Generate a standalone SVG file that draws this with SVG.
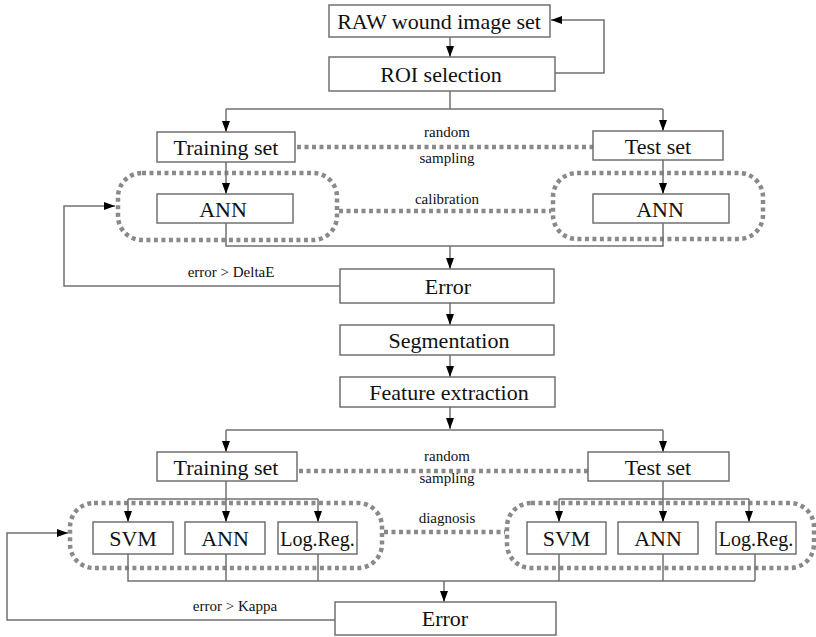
<svg xmlns="http://www.w3.org/2000/svg" width="816" height="637" viewBox="0 0 816 637">
  <style>
    .box { fill: #ffffff; stroke: #707070; stroke-width: 1.5; }
    .lbl { font-family: "Liberation Serif", "Times New Roman", serif; font-size: 22px; fill: #111111; text-anchor: middle; }
    .sm { font-family: "Liberation Serif", "Times New Roman", serif; font-size: 15px; fill: #111111; text-anchor: middle; }
    .wire { fill: none; stroke: #707070; stroke-width: 1.5; }
    .arr { fill: none; stroke: #707070; stroke-width: 1.5; marker-end: url(#head); }
    .dot { fill: none; stroke: #8a8a8a; stroke-width: 4.5; stroke-dasharray: 4 3.5; }
  </style>
  <defs>
    <marker id="head" markerUnits="userSpaceOnUse" markerWidth="11" markerHeight="8" refX="11" refY="4" orient="auto">
      <path d="M0,0 L11,4 L0,8 z" fill="#000000"/>
    </marker>
  </defs>
  <rect width="816" height="637" fill="#ffffff"/>

  <!-- dotted grouping outlines and dotted links -->
  <g id="groups">
    <rect class="dot" x="118" y="173" width="219" height="67" rx="24"/>
    <rect class="dot" x="553" y="173" width="210" height="66" rx="24"/>
    <rect class="dot" x="70" y="503" width="312" height="65" rx="24"/>
    <rect class="dot" x="507" y="503" width="307" height="65" rx="24"/>
    <line class="dot" x1="297" y1="147" x2="593" y2="147"/>
    <line class="dot" x1="339" y1="211" x2="551" y2="211"/>
    <line class="dot" x1="299" y1="471" x2="588" y2="471"/>
    <line class="dot" x1="384" y1="532" x2="505" y2="532"/>
    <text class="sm" x="447" y="137">random</text>
    <text class="sm" x="447" y="163">sampling</text>
    <text class="sm" x="447" y="204">calibration</text>
    <text class="sm" x="447" y="461">random</text>
    <text class="sm" x="447" y="483">sampling</text>
    <text class="sm" x="447" y="523">diagnosis</text>
  </g>

  <!-- solid connectors -->
  <g id="connectors">
    <line class="arr" x1="450" y1="37" x2="450" y2="57"/>
    <polyline class="arr" points="555,73 604,73 604,20 551,20"/>
    <polyline class="wire" points="450,91 450,109"/>
    <polyline class="wire" points="226,109 663,109"/>
    <line class="arr" x1="226" y1="109" x2="226" y2="132"/>
    <line class="arr" x1="663" y1="109" x2="663" y2="131"/>
    <line class="arr" x1="226" y1="162" x2="226" y2="194"/>
    <line class="arr" x1="663" y1="160" x2="663" y2="194"/>
    <polyline class="wire" points="226,223 226,246 663,246 663,223"/>
    <line class="arr" x1="450" y1="246" x2="450" y2="269"/>
    <polyline class="arr" points="340,286 64,286 64,206 115,206"/>
    <text class="sm" x="231" y="277">error &gt; DeltaE</text>
    <line class="arr" x1="450" y1="303" x2="450" y2="325"/>
    <line class="arr" x1="450" y1="355" x2="450" y2="377"/>
    <line class="arr" x1="450" y1="407" x2="450" y2="429"/>
    <polyline class="wire" points="226,430 663,430"/>
    <line class="arr" x1="226" y1="430" x2="226" y2="452"/>
    <line class="arr" x1="663" y1="430" x2="663" y2="452"/>
    <polyline class="wire" points="226,481 226,499"/>
    <polyline class="wire" points="128,499 318,499"/>
    <line class="arr" x1="128" y1="499" x2="128" y2="522"/>
    <line class="arr" x1="226" y1="499" x2="226" y2="522"/>
    <line class="arr" x1="318" y1="499" x2="318" y2="522"/>
    <polyline class="wire" points="663,481 663,499"/>
    <polyline class="wire" points="559,499 749,499"/>
    <line class="arr" x1="559" y1="499" x2="559" y2="522"/>
    <line class="arr" x1="663" y1="499" x2="663" y2="522"/>
    <line class="arr" x1="749" y1="499" x2="749" y2="522"/>
    <polyline class="wire" points="128,554 128,581 755,581"/>
    <line class="wire" x1="226" y1="554" x2="226" y2="581"/>
    <line class="wire" x1="318" y1="554" x2="318" y2="581"/>
    <line class="wire" x1="559" y1="554" x2="559" y2="581"/>
    <line class="wire" x1="663" y1="554" x2="663" y2="581"/>
    <line class="wire" x1="755" y1="554" x2="755" y2="581"/>
    <line class="arr" x1="444" y1="581" x2="444" y2="602"/>
    <polyline class="arr" points="335,620 7,620 7,533 68,533"/>
    <text class="sm" x="235" y="611">error &gt; Kappa</text>
  </g>

  <!-- process nodes -->
  <g id="raw"><rect class="box" x="329" y="5" width="221" height="32"/><text class="lbl" x="439" y="28.5">RAW wound image set</text></g>
  <g id="roi"><rect class="box" x="329" y="57" width="226" height="34"/><text class="lbl" x="441" y="81.5">ROI selection</text></g>
  <g id="train1"><rect class="box" x="157" y="132" width="138" height="30"/><text class="lbl" x="226" y="154.5">Training set</text></g>
  <g id="test1"><rect class="box" x="593" y="131" width="130" height="29"/><text class="lbl" x="658" y="153.5">Test set</text></g>
  <g id="ann1"><rect class="box" x="157" y="194" width="136" height="29"/><text class="lbl" x="223" y="216.5">ANN</text></g>
  <g id="ann2"><rect class="box" x="593" y="194" width="136" height="29"/><text class="lbl" x="660" y="216.5">ANN</text></g>
  <g id="error1"><rect class="box" x="340" y="269" width="214" height="34"/><text class="lbl" x="448" y="294">Error</text></g>
  <g id="seg"><rect class="box" x="340" y="325" width="214" height="30"/><text class="lbl" x="449" y="347.5">Segmentation</text></g>
  <g id="feat"><rect class="box" x="340" y="377" width="215" height="30"/><text class="lbl" x="449" y="399.5">Feature extraction</text></g>
  <g id="train2"><rect class="box" x="157" y="452" width="140" height="29"/><text class="lbl" x="226" y="474.5">Training set</text></g>
  <g id="test2"><rect class="box" x="588" y="452" width="141" height="29"/><text class="lbl" x="658" y="474.5">Test set</text></g>
  <g id="svm1"><rect class="box" x="93" y="522" width="80" height="32"/><text class="lbl" x="133" y="546">SVM</text></g>
  <g id="ann3"><rect class="box" x="185" y="522" width="80" height="32"/><text class="lbl" x="225" y="546">ANN</text></g>
  <g id="lr1"><rect class="box" x="278" y="522" width="79" height="32"/><text class="lbl" x="317.5" y="546" style="font-size:20px">Log.Reg.</text></g>
  <g id="svm2"><rect class="box" x="527" y="522" width="79" height="32"/><text class="lbl" x="566.5" y="546">SVM</text></g>
  <g id="ann4"><rect class="box" x="618" y="522" width="80" height="32"/><text class="lbl" x="658" y="546">ANN</text></g>
  <g id="lr2"><rect class="box" x="716" y="522" width="80" height="32"/><text class="lbl" x="756" y="546" style="font-size:20px">Log.Reg.</text></g>
  <g id="error2"><rect class="box" x="335" y="602" width="221" height="33"/><text class="lbl" x="445" y="626">Error</text></g>
</svg>
